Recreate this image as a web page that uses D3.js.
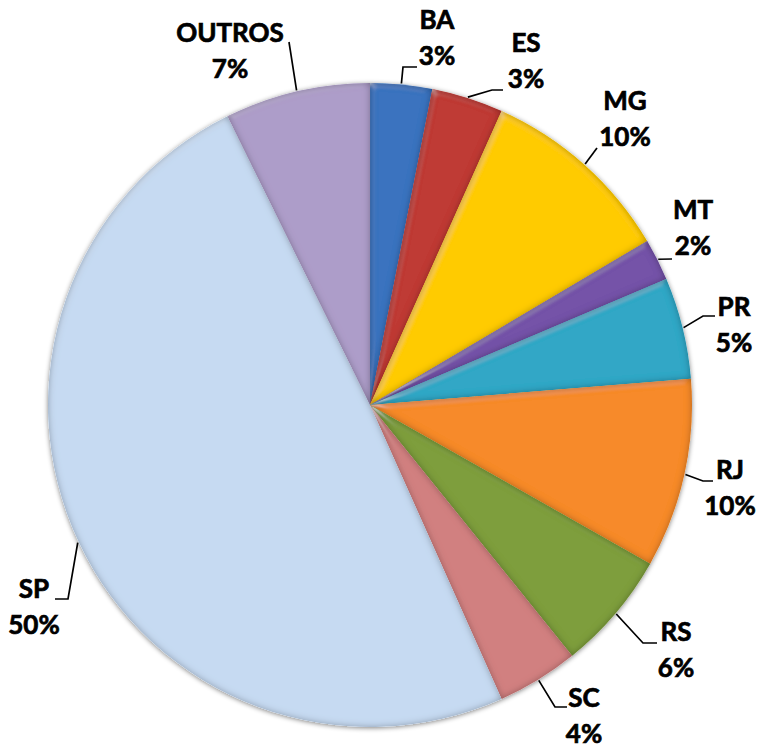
<!DOCTYPE html>
<html>
<head>
<meta charset="utf-8">
<script src="https://cdn.jsdelivr.net/npm/d3@7"></script>
<style>
  html, body { margin: 0; padding: 0; background: #fff; }
  svg { display: block; }
</style>
</head>
<body>
<svg id="chart" width="760" height="748"></svg>
<script>
// ---- data ----
const categories = ["BA", "ES", "MG", "MT", "PR", "RJ", "RS", "SC", "SP", "OUTROS"];
const shares     = [3.1, 3.6, 9.8, 2.1, 5.1, 9.5, 6.0, 4.1, 49.4, 7.3];
const pctLabels  = ["3%", "3%", "10%", "2%", "5%", "10%", "6%", "4%", "50%", "7%"];
const colors     = ["#3b73bf", "#bf3a36", "#ffcb05", "#7553a8", "#33a7c6", "#f78a2b", "#7e9e3e", "#d18080", "#c6daf2", "#ad9dc9"];

// ---- layout (label placement) ----
const labelPos = [
  {x: 437, y: 29,  pts: [[403, 67], [417, 67]]},
  {x: 526, y: 52,  pts: [[492, 90], [503, 90]]},
  {x: 625, y: 110, pts: [[597, 148]]},
  {x: 693, y: 219, pts: [[672, 259]]},
  {x: 734, y: 316, pts: [[703, 316], [715, 316]]},
  {x: 730, y: 479, pts: [[703, 481], [713, 481]]},
  {x: 676, y: 641, pts: [[643, 643], [657, 643]]},
  {x: 584, y: 707, pts: [[555, 707], [567, 707]]},
  {x: 34,  y: 598, pts: [[68, 599], [55, 599]]},
  {x: 230, y: 42,  pts: [[289, 42]]}
];

const cx = 370, cy = 405, R = 322;
const svg = d3.select("#chart");
const defs = svg.append("defs");

// bevel / inner edge shading
const bev = defs.append("filter").attr("id", "bevel")
  .attr("x", "-10%").attr("y", "-10%").attr("width", "120%").attr("height", "120%");
bev.append("feGaussianBlur").attr("in", "SourceAlpha").attr("stdDeviation", 3.5).attr("result", "blur");
bev.append("feComposite").attr("in", "SourceAlpha").attr("in2", "blur")
  .attr("operator", "arithmetic").attr("k2", 1).attr("k3", -1).attr("result", "edge");
bev.append("feFlood").attr("flood-color", "#000").attr("flood-opacity", 0.6).attr("result", "dark");
bev.append("feComposite").attr("in", "dark").attr("in2", "edge").attr("operator", "in").attr("result", "shade");
bev.append("feSpecularLighting").attr("in", "blur").attr("surfaceScale", 4)
  .attr("specularConstant", 0.6).attr("specularExponent", 18)
  .attr("lighting-color", "#ffffff").attr("result", "spec")
  .append("feDistantLight").attr("azimuth", 235).attr("elevation", 45);
bev.append("feComposite").attr("in", "spec").attr("in2", "SourceAlpha").attr("operator", "in").attr("result", "specIn");
bev.append("feComposite").attr("in", "specIn").attr("in2", "edge").attr("operator", "in").attr("result", "hl");
const bm = bev.append("feMerge");
bm.append("feMergeNode").attr("in", "SourceGraphic");
bm.append("feMergeNode").attr("in", "shade");
bm.append("feMergeNode").attr("in", "hl");

// outer drop shadow
const ds = defs.append("filter").attr("id", "drop")
  .attr("x", "-10%").attr("y", "-10%").attr("width", "120%").attr("height", "120%");
ds.append("feGaussianBlur").attr("in", "SourceAlpha").attr("stdDeviation", 2.5).attr("result", "b");
ds.append("feOffset").attr("in", "b").attr("dx", 0).attr("dy", 1).attr("result", "o");
ds.append("feComponentTransfer").attr("in", "o").attr("result", "oa")
  .append("feFuncA").attr("type", "linear").attr("slope", 0.5);
const dm = ds.append("feMerge");
dm.append("feMergeNode").attr("in", "oa");
dm.append("feMergeNode").attr("in", "SourceGraphic");

const data = categories.map((c, i) => ({cat: c, v: shares[i], pct: pctLabels[i], col: colors[i], lp: labelPos[i]}));

const pie = d3.pie().value(d => d.v).sort(null).startAngle(0).endAngle(2 * Math.PI);
const arcs = pie(data);
const arc = d3.arc().innerRadius(0).outerRadius(R);

const g = svg.append("g").attr("transform", `translate(${cx},${cy})`).attr("filter", "url(#drop)");
g.selectAll("path.slice").data(arcs).join("path")
  .attr("class", "slice")
  .attr("d", arc)
  .attr("fill", d => d.data.col)
  .attr("filter", "url(#bevel)");

// leader lines
const lines = svg.append("g");
arcs.forEach(a => {
  const mid = (a.startAngle + a.endAngle) / 2;
  const sx = cx + (R + 1) * Math.sin(mid);
  const sy = cy - (R + 1) * Math.cos(mid);
  const pts = [[sx, sy]].concat(a.data.lp.pts);
  lines.append("path")
    .attr("d", d3.line()(pts))
    .attr("fill", "none").attr("stroke", "#000").attr("stroke-width", 1.7);
});

// labels
const lab = svg.append("g")
  .attr("font-family", "Lato, 'Open Sans', sans-serif")
  .attr("font-weight", "bold")
  .attr("font-size", 26)
  .attr("fill", "#000")
  .attr("stroke", "#000").attr("stroke-width", 0.7)
  .attr("text-anchor", "middle");
data.forEach(d => {
  const t = lab.append("text").attr("x", d.lp.x).attr("y", d.lp.y);
  t.append("tspan").attr("x", d.lp.x).text(d.cat);
  t.append("tspan").attr("x", d.lp.x).attr("dy", 36).text(d.pct);
});
</script>
</body>
</html>
